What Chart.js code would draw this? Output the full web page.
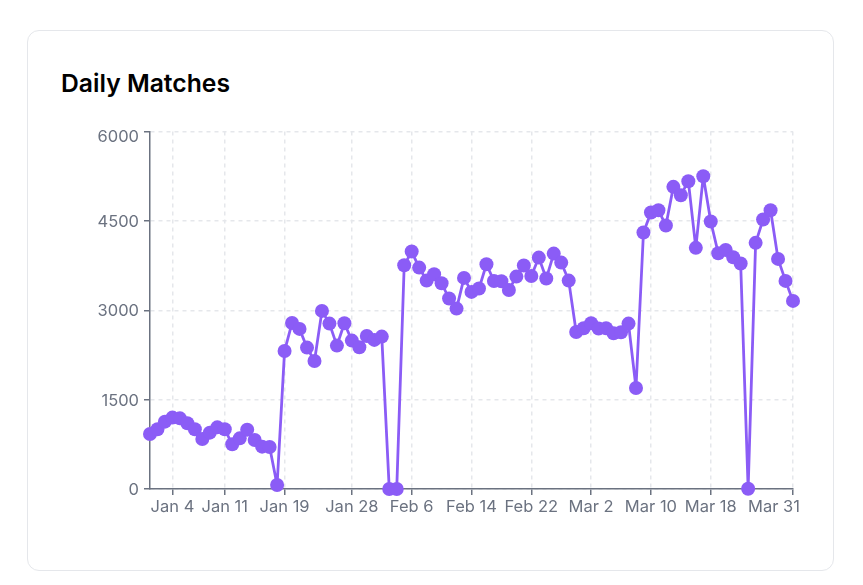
<!DOCTYPE html>
<html>
<head>
<meta charset="utf-8">
<title>Daily Matches</title>
<script src="https://cdn.jsdelivr.net/npm/chart.js@4"></script>
<style>
  html, body { margin: 0; padding: 0; background: #fff; }
  .card {
    position: absolute; left: 27px; top: 30px; width: 805px; height: 539px;
    border: 1px solid #e5e7eb; border-radius: 12px; background: #fff;
  }
  h2 {
    position: absolute; left: 33px; top: 37px; margin: 0;
    font: 600 24.7px/30px Inter, sans-serif; color: #000;
  }
  #chart { position: absolute; left: 62px; top: 89px; }
</style>
</head>
<body>
<div class="card">
  <h2>Daily Matches</h2>
  <canvas id="chart" width="720" height="400"></canvas>
</div>
<script>
const dates = [
  "Jan 1","Jan 2","Jan 3","Jan 4","Jan 5","Jan 6","Jan 7","Jan 8","Jan 9","Jan 10",
  "Jan 11","Jan 12","Jan 13","Jan 14","Jan 15","Jan 16","Jan 17","Jan 18","Jan 19","Jan 20",
  "Jan 21","Jan 22","Jan 23","Jan 24","Jan 25","Jan 26","Jan 27","Jan 28","Jan 29","Jan 30",
  "Jan 31","Feb 1","Feb 3","Feb 4","Feb 5","Feb 6","Feb 7","Feb 8","Feb 9","Feb 10",
  "Feb 11","Feb 12","Feb 13","Feb 14","Feb 15","Feb 16","Feb 17","Feb 18","Feb 19","Feb 20",
  "Feb 21","Feb 22","Feb 23","Feb 24","Feb 25","Feb 26","Feb 27","Feb 28","Mar 1","Mar 2",
  "Mar 3","Mar 4","Mar 5","Mar 6","Mar 7","Mar 8","Mar 9","Mar 10","Mar 11","Mar 12",
  "Mar 13","Mar 14","Mar 15","Mar 16","Mar 17","Mar 18","Mar 19","Mar 20","Mar 21","Mar 22",
  "Mar 24","Mar 25","Mar 26","Mar 27","Mar 28","Mar 30","Mar 31"
];
const matches = [
  924,1002,1130,1198,1186,1103,1002,840,946,1035,
  1002,750,850,996,823,711,705,67,2317,2787,
  2687,2373,2149,2989,2776,2407,2782,2491,2379,2569,
  2502,2558,0,0,3756,3985,3716,3498,3604,3453,
  3196,3028,3543,3308,3364,3772,3492,3487,3341,3565,
  3750,3576,3884,3532,3951,3800,3498,2636,2698,2782,
  2692,2698,2614,2631,2776,1696,4304,4640,4679,4422,
  5071,4931,5166,4047,5250,4489,3957,4013,3890,3784,
  5,4131,4522,4679,3862,3493,3157
];
const tickDates = ["Jan 4","Jan 11","Jan 19","Jan 28","Feb 6","Feb 14","Feb 22","Mar 2","Mar 10","Mar 18","Mar 31"];

const axisColor = "#6b7280";
const gridColor = "#e5e7eb";
const tickFont = { family: "Inter", size: 16.5 };

// end labels are pulled back inside so they don't hang off the plot
const edgeLabelFit = {
  id: "edgeLabelFit",
  beforeDraw(chart) {
    const xItems = chart.scales.x.getLabelItems();
    const last = xItems[xItems.length - 1];
    last.options.textAlign = "right";
    last.options.translation[0] = chart.chartArea.right + 7;

    const yScale = chart.scales.y;
    const yItems = yScale.getLabelItems();
    yItems.forEach((item, i) => {
      const nudge = i === yItems.length - 1 ? 6 : 1;
      item.options.translation[1] = yScale.getPixelForTick(i) + nudge;
    });
  }
};

new Chart(document.getElementById("chart"), {
  type: "line",
  plugins: [edgeLabelFit],
  data: {
    labels: dates,
    datasets: [{
      label: "Daily Matches",
      data: matches,
      borderColor: "#8b5cf6",
      backgroundColor: "#8b5cf6",
      borderWidth: 2.8,
      borderJoinStyle: "round",
      tension: 0,
      pointRadius: 7,
      pointBorderWidth: 0,
      clip: false
    }]
  },
  options: {
    responsive: false,
    animation: false,
    layout: { padding: { top: 11.5, right: 17 } },
    plugins: { legend: { display: false }, tooltip: { enabled: false } },
    scales: {
      x: {
        offset: false,
        afterBuildTicks: scale => {
          scale.ticks = tickDates.map(d => ({ value: dates.indexOf(d) }));
        },
        afterFit: scale => {
          scale.height = 31;
          scale.paddingLeft = 0;
          scale.paddingRight = 0;
        },
        grid: {
          color: gridColor, tickColor: axisColor, lineWidth: 1.5,
          tickBorderDash: [], tickLength: 6
        },
        border: { display: true, color: axisColor, width: 1.5, dash: [4, 4] },
        ticks: { autoSkip: false, maxRotation: 0, color: axisColor, font: tickFont, padding: 2 }
      },
      y: {
        min: 0,
        max: 6000,
        afterFit: scale => {
          scale.width = 60;
          scale.paddingTop = 0;
          scale.paddingBottom = 0;
        },
        grid: {
          color: gridColor, tickColor: axisColor, lineWidth: 1.5,
          tickBorderDash: [], tickLength: 6
        },
        border: { display: true, color: axisColor, width: 1.5, dash: [4, 4] },
        ticks: {
          stepSize: 1500, color: axisColor, font: tickFont, padding: 5,
          callback: value => String(value)
        }
      }
    }
  }
});
</script>
</body>
</html>
